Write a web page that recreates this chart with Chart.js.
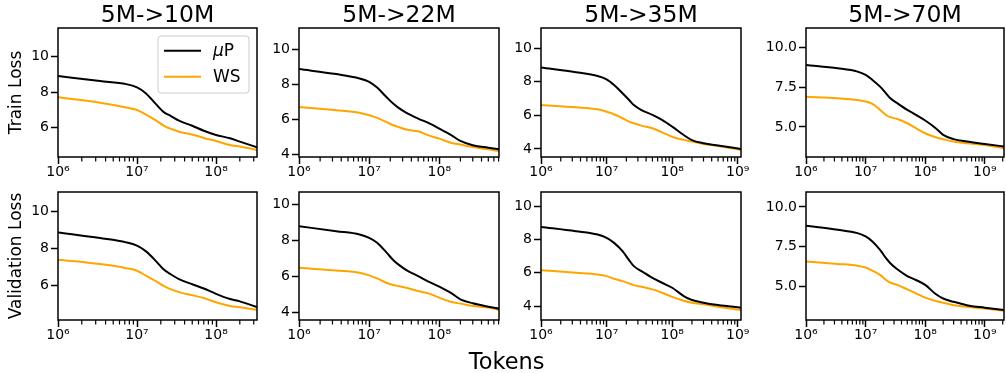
<!DOCTYPE html>
<html>
<head>
<meta charset="utf-8">
<script src="https://cdn.jsdelivr.net/npm/chart.js@4.4.0/dist/chart.umd.min.js"></script>
<style>
  html, body { margin: 0; padding: 0; background: #fff; }
  #fig { position: relative; width: 1006px; height: 373px; overflow: hidden; font-family: 'DejaVu Sans', sans-serif; background: #fff; }
  #fig canvas { position: absolute; }
  #xlabel { position: absolute; left: 446.7px; width: 120px; top: 350.3px; text-align: center;
            font-size: 22.5px; line-height: 22.5px; color: #000; white-space: nowrap; }
</style>
</head>
<body>
<div id="fig">
  <canvas id="p0"></canvas><canvas id="p1"></canvas><canvas id="p2"></canvas><canvas id="p3"></canvas>
  <canvas id="p4"></canvas><canvas id="p5"></canvas><canvas id="p6"></canvas><canvas id="p7"></canvas>
  <div id="xlabel">Tokens</div>
</div>
<script>
// Loss curves when growing a 5M model into larger targets: μP vs WS.
const titles = ['5M->10M', '5M->22M', '5M->35M', '5M->70M'];
const rowLabels = ['Train Loss', 'Validation Loss'];
const seriesNames = ['μP', 'WS'];
const seriesColors = ['#000000', '#FFA500'];

// x axis: decades labelled with powers of ten
const xMajorTicks = [1e6, 1e7, 1e8, 1e9];
const xMajorLabels = ['10⁶', '10⁷', '10⁸', '10⁹'];
const xMax = [3.3e8, 7.1e8, 1.12e9, 2.1e9];

// y axis ticks and limits per column
const yTicks = [[6, 8, 10], [4, 6, 8, 10], [4, 6, 8, 10], [5, 7.5, 10]];
const yTickLabels = [['6', '8', '10'], ['4', '6', '8', '10'], ['4', '6', '8', '10'], ['5.0', '7.5', '10.0']];
const trainYRange = [[4.32, 11.63], [3.83, 11.22], [3.52, 11.21], [3.11, 11.21]];
const valYRange = [[4.11, 11.05], [3.59, 10.70], [3.16, 10.86], [2.91, 10.94]];

// 5M -> 10M
const tokens10M = [1e6, 3.4e6, 7.3e6, 1e7, 1.3e7, 1.75e7, 2.2e7, 2.6e7, 3.4e7, 5e7, 7e7, 1e8, 1.5e8, 2e8, 3.3e8];
const train10M_muP = [8.91, 8.62, 8.45, 8.26, 7.92, 7.30, 6.85, 6.68, 6.38, 6.09, 5.81, 5.57, 5.38, 5.19, 4.87];
const train10M_ws  = [7.70, 7.40, 7.13, 6.98, 6.72, 6.38, 6.08, 5.94, 5.75, 5.60, 5.40, 5.23, 5.00, 4.91, 4.72];
const val10M_muP   = [8.86, 8.55, 8.32, 8.14, 7.83, 7.29, 6.83, 6.62, 6.33, 6.05, 5.82, 5.53, 5.25, 5.12, 4.81];
const val10M_ws    = [7.38, 7.14, 6.92, 6.78, 6.51, 6.20, 5.95, 5.80, 5.62, 5.45, 5.30, 5.07, 4.87, 4.80, 4.66];

// 5M -> 22M
const tokens22M = [1e6, 3.4e6, 7.3e6, 1e7, 1.3e7, 1.75e7, 2.2e7, 2.6e7, 3.4e7, 5e7, 7e7, 1e8, 1.5e8, 2e8, 3e8, 5e8, 7.1e8];
const train22M_muP = [8.87, 8.58, 8.33, 8.14, 7.81, 7.28, 6.89, 6.66, 6.36, 6.03, 5.78, 5.46, 5.07, 4.75, 4.50, 4.36, 4.27];
const train22M_ws  = [6.70, 6.51, 6.36, 6.22, 6.07, 5.84, 5.65, 5.55, 5.40, 5.30, 5.07, 4.88, 4.63, 4.54, 4.40, 4.27, 4.17];
const val22M_muP   = [8.80, 8.52, 8.34, 8.15, 7.88, 7.36, 6.92, 6.68, 6.36, 6.03, 5.72, 5.44, 5.07, 4.74, 4.52, 4.33, 4.22];
const val22M_ws    = [6.49, 6.34, 6.22, 6.07, 5.90, 5.66, 5.53, 5.48, 5.38, 5.20, 5.07, 4.83, 4.59, 4.50, 4.37, 4.28, 4.15];

// 5M -> 35M
const tokens35M = [1e6, 3.4e6, 7.3e6, 1e7, 1.3e7, 1.75e7, 2.2e7, 2.6e7, 3.4e7, 5e7, 7e7, 1e8, 1.5e8, 2e8, 3e8, 5e8, 1.12e9];
const train35M_muP = [8.85, 8.57, 8.35, 8.15, 7.81, 7.32, 6.92, 6.62, 6.32, 6.03, 5.73, 5.33, 4.83, 4.53, 4.34, 4.20, 4.00];
const train35M_ws  = [6.62, 6.48, 6.36, 6.22, 6.07, 5.83, 5.63, 5.53, 5.39, 5.23, 4.99, 4.73, 4.54, 4.44, 4.30, 4.18, 3.94];
const val35M_muP   = [8.76, 8.50, 8.30, 8.10, 7.80, 7.30, 6.76, 6.40, 6.10, 5.70, 5.40, 5.10, 4.60, 4.36, 4.20, 4.06, 3.90];
const val35M_ws    = [6.16, 6.00, 5.90, 5.80, 5.64, 5.50, 5.36, 5.26, 5.16, 5.00, 4.80, 4.55, 4.32, 4.20, 4.10, 3.96, 3.76];

// 5M -> 70M
const tokens70M = [1e6, 3.4e6, 7.3e6, 1e7, 1.3e7, 1.75e7, 2.2e7, 2.6e7, 3.4e7, 5e7, 7e7, 1e8, 1.5e8, 2e8, 3e8, 5e8, 1e9, 2.1e9];
const train70M_muP = [8.89, 8.68, 8.47, 8.26, 7.95, 7.53, 7.11, 6.80, 6.49, 6.07, 5.75, 5.40, 4.92, 4.50, 4.23, 4.08, 3.93, 3.77];
const train70M_ws  = [6.90, 6.80, 6.69, 6.59, 6.44, 6.07, 5.75, 5.61, 5.50, 5.23, 4.92, 4.60, 4.35, 4.23, 4.08, 3.97, 3.87, 3.66];
const val70M_muP   = [8.82, 8.57, 8.36, 8.15, 7.84, 7.31, 6.79, 6.47, 6.09, 5.67, 5.42, 5.11, 4.54, 4.26, 4.05, 3.84, 3.68, 3.53];
const val70M_ws    = [6.58, 6.43, 6.32, 6.20, 6.01, 5.74, 5.42, 5.25, 5.11, 4.83, 4.58, 4.31, 4.10, 3.99, 3.84, 3.74, 3.63, 3.49];

const columns = [
  { tokens: tokens10M, train: [train10M_muP, train10M_ws], val: [val10M_muP, val10M_ws] },
  { tokens: tokens22M, train: [train22M_muP, train22M_ws], val: [val22M_muP, val22M_ws] },
  { tokens: tokens35M, train: [train35M_muP, train35M_ws], val: [val35M_muP, val35M_ws] },
  { tokens: tokens70M, train: [train70M_muP, train70M_ws], val: [val70M_muP, val70M_ws] },
];

// ---- layout of the 2x4 grid (canvas boxes in page pixels) ----
const colBoxes = [
  { left: 0,   yw: 58, w: 261, padRight: 4 },
  { left: 259, yw: 40, w: 244, padRight: 4 },
  { left: 501, yw: 40, w: 256, padRight: 16 },
  { left: 766, yw: 40, w: 240, padRight: 2 },
];
const rowBoxes = [
  { top: 0,   h: 187, padTop: 0 },   // 28 px title band + 129 px plot + 30 px axis
  { top: 182, h: 168, padTop: 10 },  // 10 px gap + 128 px plot + 30 px axis
];

Chart.defaults.font.family = "'DejaVu Sans', sans-serif";
Chart.defaults.color = '#000';

// log-axis tick positions: 1..9 x 10^n inside [1e6, max]
function logTicks(max) {
  const out = [];
  xMajorTicks.forEach(d => {
    for (let k = 1; k <= 9; k++) {
      const v = k * d;
      if (v <= max * 1.0001) out.push({ value: v, major: k === 1 });
    }
  });
  return out;
}

// axes frame on all four sides plus short minor ticks on the x axis
const framePlugin = {
  id: 'frame',
  afterDraw(chart) {
    const { ctx, chartArea: a } = chart;
    const x = chart.scales.x;
    ctx.save();
    ctx.strokeStyle = '#000';
    ctx.lineWidth = 1.2;
    x.ticks.forEach(t => {
      if (t.major) return;
      const px = x.getPixelForValue(t.value);
      ctx.beginPath();
      ctx.moveTo(px, a.bottom);
      ctx.lineTo(px, a.bottom + 4.5);
      ctx.stroke();
    });
    ctx.lineWidth = 1.5;
    ctx.strokeRect(a.left, a.top, a.right - a.left, a.bottom - a.top);
    ctx.restore();
  }
};

// boxed legend in the upper right of the plot area
const legendPlugin = {
  id: 'legendBox',
  afterDraw(chart, args, opts) {
    if (!opts.show) return;
    const { ctx, chartArea: a } = chart;
    const w = 91, h = 57, r = 3;
    const x0 = a.right - 8 - w, y0 = a.top + 8;
    ctx.save();
    ctx.beginPath();
    ctx.moveTo(x0 + r, y0);
    ctx.arcTo(x0 + w, y0, x0 + w, y0 + h, r);
    ctx.arcTo(x0 + w, y0 + h, x0, y0 + h, r);
    ctx.arcTo(x0, y0 + h, x0, y0, r);
    ctx.arcTo(x0, y0, x0 + w, y0, r);
    ctx.closePath();
    ctx.fillStyle = 'rgba(255,255,255,0.8)';
    ctx.fill();
    ctx.strokeStyle = '#cccccc';
    ctx.lineWidth = 1;
    ctx.stroke();
    chart.data.datasets.forEach((ds, i) => {
      const yy = y0 + 14.7 + i * 26;
      ctx.strokeStyle = ds.borderColor;
      ctx.lineWidth = 2;
      ctx.beginPath();
      ctx.moveTo(x0 + 6, yy);
      ctx.lineTo(x0 + 43, yy);
      ctx.stroke();
      ctx.fillStyle = '#000';
      ctx.textBaseline = 'middle';
      ctx.textAlign = 'left';
      let tx = x0 + 55;
      let text = ds.label;
      if (text.startsWith('μ')) {
        ctx.font = "italic 17px 'DejaVu Sans'";
        ctx.fillText('μ', tx, yy + 1);
        tx += ctx.measureText('μ').width;
        text = text.slice(1);
      }
      ctx.font = "17px 'DejaVu Sans'";
      ctx.fillText(text, tx, yy + 1);
    });
    ctx.restore();
  }
};

function makePanel(idx, row, col) {
  const cb = colBoxes[col], rb = rowBoxes[row];
  const cv = document.getElementById('p' + idx);
  cv.width = cb.w; cv.height = rb.h;
  cv.style.left = cb.left + 'px'; cv.style.top = rb.top + 'px';
  cv.style.width = cb.w + 'px'; cv.style.height = rb.h + 'px';

  const colData = columns[col];
  const series = row === 0 ? colData.train : colData.val;
  const yr = row === 0 ? trainYRange[col] : valYRange[col];

  return new Chart(cv, {
    type: 'line',
    data: {
      datasets: series.map((ys, i) => ({
        label: seriesNames[i],
        data: colData.tokens.map((t, k) => ({ x: t, y: ys[k] })),
        borderColor: seriesColors[i],
        backgroundColor: seriesColors[i],
        borderWidth: 2,
        pointRadius: 0,
        cubicInterpolationMode: 'monotone',
        fill: false,
        order: i === 0 ? 0 : 1,
      }))
    },
    options: {
      responsive: false,
      animation: false,
      devicePixelRatio: 1,
      events: [],
      layout: { padding: { top: rb.padTop, right: cb.padRight, bottom: 0, left: 0 } },
      plugins: {
        legend: { display: false },
        tooltip: { enabled: false },
        title: row === 0 ? {
          display: true, text: titles[col], fullSize: false, color: '#000',
          font: { size: 23.5, weight: 'normal', lineHeight: 1 },
          padding: { top: 4.5, bottom: 0 }
        } : { display: false },
        legendBox: { show: row === 0 && col === 0 }
      },
      scales: {
        x: {
          type: 'logarithmic',
          min: 1e6,
          max: xMax[col],
          afterBuildTicks: s => { s.ticks = logTicks(xMax[col]); },
          afterFit: s => { s.height = 30; s.paddingLeft = 0; s.paddingRight = 0; },
          grid: {
            drawOnChartArea: false, drawTicks: true, tickLength: 7, tickWidth: 1.5,
            tickColor: c => (c.tick && c.tick.major) ? '#000' : 'rgba(0,0,0,0)'
          },
          border: { display: false },
          ticks: {
            autoSkip: false, maxRotation: 0, minRotation: 0, padding: 0,
            color: '#000', font: { size: 14 },
            callback: v => {
              const i = xMajorTicks.indexOf(v);
              return i >= 0 ? xMajorLabels[i] : '';
            }
          }
        },
        y: {
          type: 'linear',
          min: yr[0],
          max: yr[1],
          afterBuildTicks: s => { s.ticks = yTicks[col].map(v => ({ value: v })); },
          afterFit: s => { s.width = cb.yw; s.paddingTop = 0; s.paddingBottom = 0; },
          grid: { drawOnChartArea: false, drawTicks: true, tickLength: 7, tickWidth: 1.5, tickColor: '#000' },
          border: { display: false },
          ticks: {
            padding: 2, color: '#000', font: { size: 14 },
            callback: (v, i) => yTickLabels[col][i]
          },
          title: col === 0 ? {
            display: true, text: rowLabels[row], color: '#000',
            font: { size: 17 }, padding: { top: 6, bottom: 0 }
          } : { display: false }
        }
      }
    },
    plugins: [framePlugin, legendPlugin]
  });
}

for (let row = 0; row < 2; row++) {
  for (let col = 0; col < 4; col++) {
    makePanel(row * 4 + col, row, col);
  }
}
</script>
</body>
</html>
